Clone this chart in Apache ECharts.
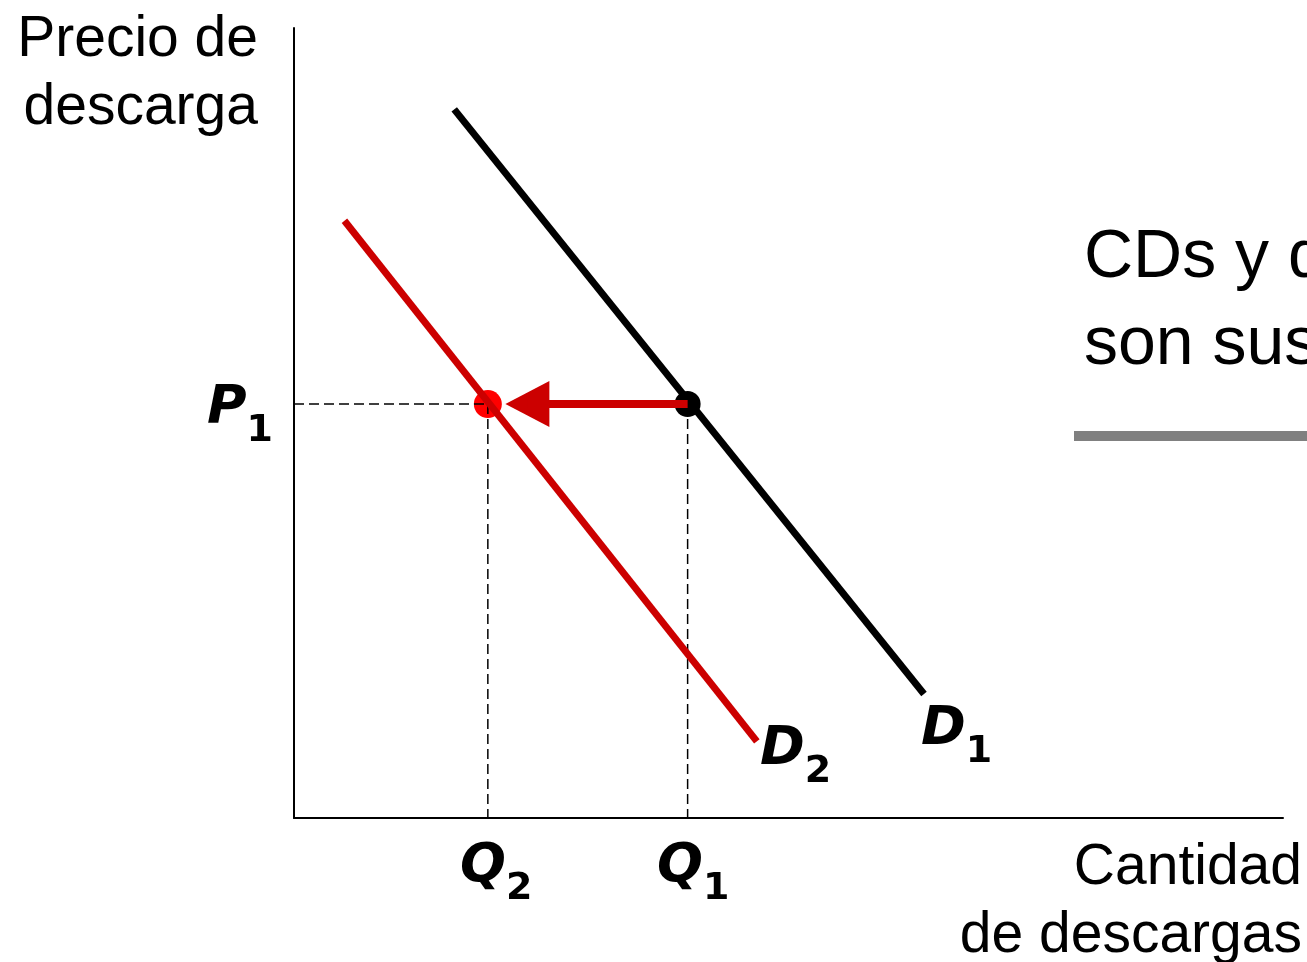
<!DOCTYPE html>
<html>
<head>
<meta charset="utf-8">
<script src="https://cdn.jsdelivr.net/npm/echarts@6/dist/echarts.min.js"></script>
<style>
  html, body { margin: 0; padding: 0; background: #fff; }
  #main { width: 1307px; height: 962px; }
</style>
</head>
<body>
<div id="main"></div>
<script>
// demand curves (quantity, price), axis runs 0..100 both ways
const demand1 = [[16.2, 89.7], [63.7, 15.7]];
const demand2 = [[5.1, 75.6], [46.8, 9.7]];
const p1 = 52.4;
const q1 = 39.8;
const q2 = 19.6;
const arrowHead = 23.6; // centre of the arrow triangle

const axisTitles = ['Precio de\ndescarga', 'Cantidad\nde descargas'];
const note = 'CDs y descargas\nson sustitutos';

const labelFont = 'DejaVu Sans';
const rich = {
  v: { fontFamily: labelFont, fontSize: 54, fontStyle: 'italic', fontWeight: 'bold', verticalAlign: 'bottom', padding: [0, 0, 14, 0] },
  s: { fontFamily: labelFont, fontSize: 38, fontWeight: 'bold', verticalAlign: 'bottom' }
};
function sub(letter, num, color) {
  const r = {
    v: Object.assign({}, rich.v, { color: color }),
    s: Object.assign({}, rich.s, { color: color })
  };
  return { text: '{v|' + letter + '}{s|' + num + '}', rich: r };
}

const chart = echarts.init(document.getElementById('main'));

const dash = { color: '#000', width: 1.5, type: [10, 5] };

chart.setOption({
  animation: false,
  grid: { left: 294, right: 24, top: 28, bottom: 144 },
  xAxis: {
    type: 'value', min: 0, max: 100,
    axisLine: { show: true, lineStyle: { color: '#000', width: 2 } },
    axisTick: { show: false }, axisLabel: { show: false }, splitLine: { show: false }
  },
  yAxis: {
    type: 'value', min: 0, max: 100,
    axisLine: { show: true, lineStyle: { color: '#000', width: 2 } },
    axisTick: { show: false }, axisLabel: { show: false }, splitLine: { show: false }
  },
  series: [
    { type: 'line', data: [[0, p1], [q2, p1]], symbol: 'none', lineStyle: dash },
    { type: 'line', data: [[q2, p1], [q2, 0]], symbol: 'none', lineStyle: dash },
    { type: 'line', data: [[q1, p1], [q1, 0]], symbol: 'none', lineStyle: dash },
    { type: 'line', data: demand1, symbol: 'none', lineStyle: { color: '#000', width: 7, cap: 'butt' } },
    { type: 'line', data: demand2, symbol: 'none', lineStyle: { color: '#CC0000', width: 7, cap: 'butt' } },
    { type: 'line', data: [[q1, p1], [arrowHead, p1]], symbol: 'none', lineStyle: { color: '#CC0000', width: 8 } },
    { type: 'scatter', data: [[arrowHead, p1]], symbol: 'triangle', symbolRotate: 90, symbolSize: [46, 44], itemStyle: { color: '#CC0000', opacity: 1 } },
    { type: 'scatter', data: [[q1, p1]], symbolSize: 26, itemStyle: { color: '#000', opacity: 1 } },
    { type: 'scatter', data: [[q2, p1]], symbolSize: 28, itemStyle: { color: '#FF0000', opacity: 1 } }
  ],
  graphic: [
    { type: 'rect', left: 1074, top: 431, shape: { width: 233, height: 10 }, style: { fill: '#808080' } },
    { type: 'text', right: 1307 - 258, top: 6, style: { text: axisTitles[0], font: '57px "Liberation Sans"', fill: '#000', textAlign: 'right', lineHeight: 68 } },
    { type: 'text', right: 5, top: 834, style: { text: axisTitles[1], font: '57px "Liberation Sans"', fill: '#000', textAlign: 'right', lineHeight: 68 } },
    { type: 'text', left: 1084, top: 215, style: { text: note, font: '68px "Liberation Sans"', fill: '#000', lineHeight: 87 } },
    { type: 'text', left: 207, top: 382, style: sub('P', '1', '#000') },
    { type: 'text', left: 460, top: 840, style: sub('Q', '2', '#000') },
    { type: 'text', left: 657, top: 840, style: sub('Q', '1', '#000') },
    { type: 'text', left: 760, top: 723, style: sub('D', '2', '#A50021') },
    { type: 'text', left: 921, top: 703, style: sub('D', '1', '#000') }
  ]
});
</script>
</body>
</html>
